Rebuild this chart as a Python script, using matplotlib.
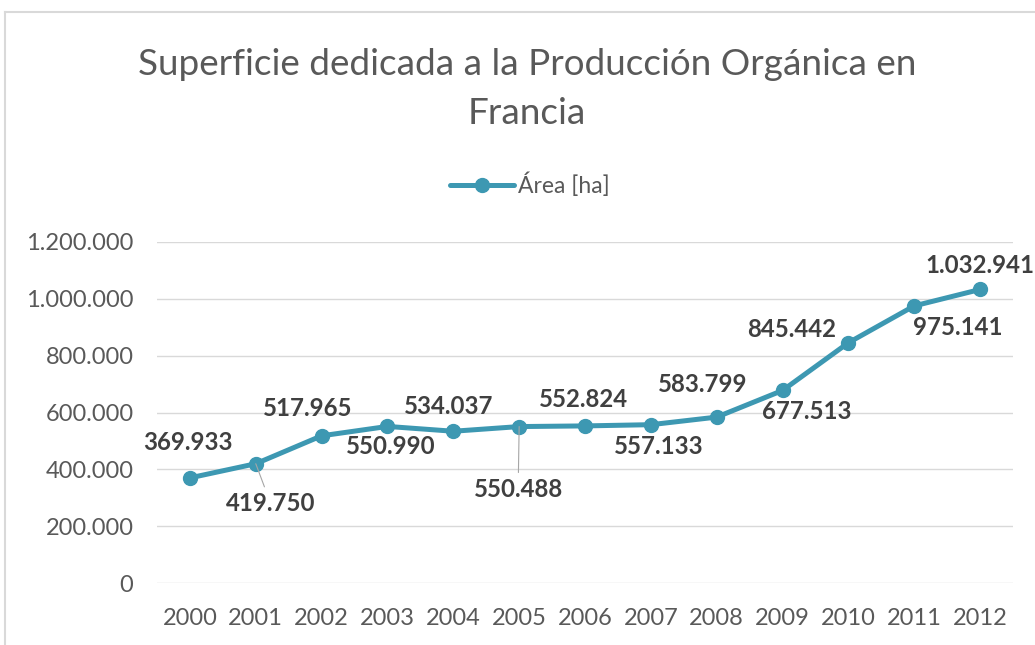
import matplotlib
matplotlib.use('Agg')
import matplotlib.pyplot as plt
from matplotlib.lines import Line2D

# data
years = ['2000', '2001', '2002', '2003', '2004', '2005', '2006',
         '2007', '2008', '2009', '2010', '2011', '2012']
area = [369933, 419750, 517965, 550990, 534037, 550488, 552824,
        557133, 583799, 677513, 845442, 975141, 1032941]
# label offsets in pixels (dx, dy), Excel placed them by hand
label_dx = [-2, 15, -14, 3, -5, -1, -1, 8, -14, 24, -57, 44, 0]
label_dy = [35, -40, 27, -20, 25, -63, 26, -22, 33, -21, 13, -22, 24]
leaders = [1, 5]

plt.rcParams['font.family'] = ['Lato', 'DejaVu Sans']

color = '#3D98B2'
fig = plt.figure(figsize=(10.35, 6.45), dpi=100)
ax = fig.add_axes([157/1035, 1 - 583/645, 856/1035, 341/645])

x = list(range(len(years)))
ax.plot(x, area, '-o', color=color, lw=3.6, ms=10, label='Área [ha]',
        solid_capstyle='round')

def fmt(v):
    return f'{v:,}'.replace(',', '.')

for i, v in enumerate(area):
    ax.annotate(fmt(v), (i, v), xytext=(label_dx[i], label_dy[i]),
                textcoords='offset pixels', ha='center', va='center',
                fontsize=17.3, fontweight='bold', color='#404040',
                arrowprops=dict(arrowstyle='-', color='#A6A6A6', lw=0.8,
                                shrinkA=2, shrinkB=0) if i in leaders else None)

ax.set_xlim(-0.5, len(years) - 0.5)
ax.set_ylim(0, 1200000)
ax.set_yticks(range(0, 1200001, 200000))
ax.set_yticklabels([fmt(v) for v in range(0, 1200001, 200000)])
ax.set_xticks(x)
ax.set_xticklabels(years)
ax.grid(axis='y', color='#D9D9D9', lw=1)
ax.set_axisbelow(True)
for s in ax.spines.values():
    s.set_visible(False)
ax.tick_params(length=0, labelsize=17, labelcolor='#595959')
ax.tick_params(axis='y', pad=17)
ax.tick_params(axis='x', pad=18)

fig.text(527/1035, 1 - 89/645,
         'Superficie dedicada a la Producción Orgánica en\nFrancia',
         ha='center', va='center', fontsize=26.6, color='#595959',
         linespacing=1.6)

leg = ax.legend(loc='center', bbox_to_anchor=(530/1035, 1 - 185/645),
                bbox_transform=fig.transFigure, frameon=False,
                fontsize=16.5, handlelength=2.8, handletextpad=0.2)
for t in leg.get_texts():
    t.set_color('#595959')

# chart frame (left and top edge visible)
fig.add_artist(Line2D([5/1035, 5/1035], [0, 1 - 12/645], transform=fig.transFigure,
                      color='#D9D9D9', lw=1.5))
fig.add_artist(Line2D([5/1035, 1], [1 - 12/645, 1 - 12/645], transform=fig.transFigure,
                      color='#D9D9D9', lw=1.5))

fig.savefig('out.png', dpi=100)
